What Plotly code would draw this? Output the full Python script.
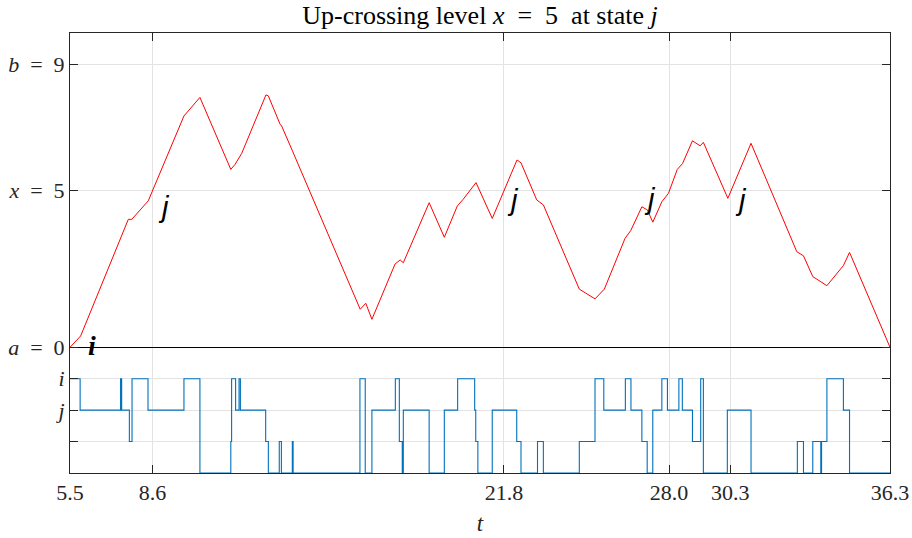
import plotly.graph_objects as go

# Level process x(t): breakpoints of the piecewise-linear path
path_t = [5.5, 5.9, 7.69, 7.82, 8.44, 9.78, 10.38, 11.54, 11.7, 11.95, 12.86, 12.95,
          13.39, 13.45, 13.87, 16.4, 16.61, 16.84, 17.71, 17.9, 18.02, 18.99, 19.56,
          20.05, 20.27, 20.75, 21.36, 22.29, 22.44, 23.03, 23.28, 24.63, 25.22, 25.57,
          26.35, 26.56, 26.98, 27.19, 27.39, 27.73, 27.98, 28.31, 28.51, 28.88, 29.17,
          29.29, 30.21, 31.08, 32.8, 33.05, 33.4, 33.93, 34.55, 34.78, 36.3]
path_x = [0.0, 0.36, 4.07, 4.07, 4.66, 7.36, 7.95, 5.66, 5.82, 6.17, 8.03, 8.0,
          7.1, 7.04, 6.22, 1.21, 1.40, 0.89, 2.65, 2.78, 2.69, 4.6, 3.5,
          4.5, 4.71, 5.24, 4.1, 5.96, 5.87, 4.69, 4.53, 1.85, 1.54, 1.85,
          3.47, 3.71, 4.47, 4.37, 3.98, 4.63, 4.9, 5.66, 5.85, 6.57, 6.41,
          6.52, 4.74, 6.49, 3.04, 2.91, 2.25, 1.96, 2.6, 3.02, 0.0]

# Background Markov chain: jump times and the state entered (i=-1, j=-2, then -3, -4)
jump_t = [5.5, 5.88, 7.40, 7.44, 7.73, 7.83, 8.43, 9.78, 10.38, 11.54, 11.57, 11.72,
          11.85, 11.90, 12.85, 12.95, 13.36, 13.44, 13.85, 13.88, 16.39, 16.59, 16.84,
          17.72, 17.87, 17.98, 18.02, 18.99, 19.56, 20.06, 20.70, 20.74, 20.82, 21.36,
          22.28, 22.44, 23.06, 23.28, 24.63, 25.22, 25.55, 26.36, 26.57, 26.98, 27.18,
          27.39, 27.73, 27.94, 28.37, 28.50, 28.88, 29.19, 29.29, 30.19, 31.08, 32.82,
          33.05, 33.40, 33.70, 33.73, 33.93, 34.55, 34.78, 36.3]
jump_state = [-1, -2, -1, -2, -3, -1, -2, -1, -4, -3, -1, -2,
              -1, -2, -3, -4, -3, -4, -3, -4, -1, -4, -2,
              -1, -3, -4, -2, -4, -2, -1, -2, -3, -4, -2,
              -3, -4, -3, -4, -3, -1, -2, -1, -2, -3, -4,
              -2, -1, -2, -1, -2, -3, -1, -4, -2, -4, -3,
              -4, -3, -4, -3, -1, -2, -4, -4]

x_ticks = [5.5, 8.6, 21.8, 28.0, 30.3, 36.3]
x_tick_text = ["5.5", "8.6", "21.8", "28.0", "30.3", "36.3"]
EQ = "\u2002=\u2002"
y_ticks = [-4, -3, -2, -1, 0, 5, 9]
y_tick_text = ["", "", "<i>j</i>", "<i>i</i>",
               f"<i>a</i>{EQ}0", f"<i>x</i>{EQ}5", f"<i>b</i>{EQ}9"]

# Up-crossing marks of level x = 5 in state j, and the start state label
j_mark_t = [9.03, 22.14, 27.29, 30.71]
j_mark_y = [4.46, 4.69, 4.72, 4.69]
i_mark = (6.33, 0.05)

SERIF = "Liberation Serif"
INK = "#262626"

fig = go.Figure()
fig.add_trace(go.Scatter(x=path_t, y=path_x, mode="lines",
                         line=dict(color="#ff0000", width=1), hoverinfo="skip"))
fig.add_trace(go.Scatter(x=jump_t, y=jump_state, mode="lines", line_shape="hv",
                         line=dict(color="#0072BD", width=1.1), hoverinfo="skip"))

for t, y in zip(j_mark_t, j_mark_y):
    fig.add_annotation(x=t, y=y, text="<i>j</i>", showarrow=False,
                       font=dict(family="Liberation Sans", size=29, color="black"),
                       xanchor="center", yanchor="middle")
fig.add_annotation(x=i_mark[0], y=i_mark[1], text="<b><i>i</i></b>", showarrow=False,
                   font=dict(family=SERIF, size=28, color="black"),
                   xanchor="center", yanchor="middle")

fig.update_layout(
    width=912, height=538,
    margin=dict(l=70, r=22, t=33, b=65),
    paper_bgcolor="white", plot_bgcolor="white",
    showlegend=False,
    font=dict(family=SERIF, size=22, color=INK),
    title=dict(text=f"Up-crossing level <i>x</i>{EQ}5  at state <i>j</i>",
               xref="paper", x=0.5, xanchor="center", y=0.972, yanchor="middle",
               font=dict(family=SERIF, size=26, color="black")),
)
fig.update_xaxes(range=[5.5, 36.3], tickvals=x_ticks, ticktext=x_tick_text,
                 automargin=False,
                 showgrid=True, gridcolor="#e3e3e3", gridwidth=1,
                 showline=True, linecolor=INK, linewidth=1, mirror="ticks",
                 ticks="inside", ticklen=8, tickcolor=INK, zeroline=False,
                 title=dict(text="<i>t</i>", standoff=10,
                            font=dict(family=SERIF, size=23, color=INK)))
fig.update_yaxes(range=[-4, 10], tickvals=y_ticks, ticktext=y_tick_text,
                 automargin=False,
                 showgrid=True, gridcolor="#e3e3e3", gridwidth=1,
                 showline=True, linecolor=INK, linewidth=1, mirror="ticks",
                 ticks="inside", ticklen=8, tickcolor=INK,
                 zeroline=True, zerolinecolor="black", zerolinewidth=1.3)

fig.write_html("out.html")
